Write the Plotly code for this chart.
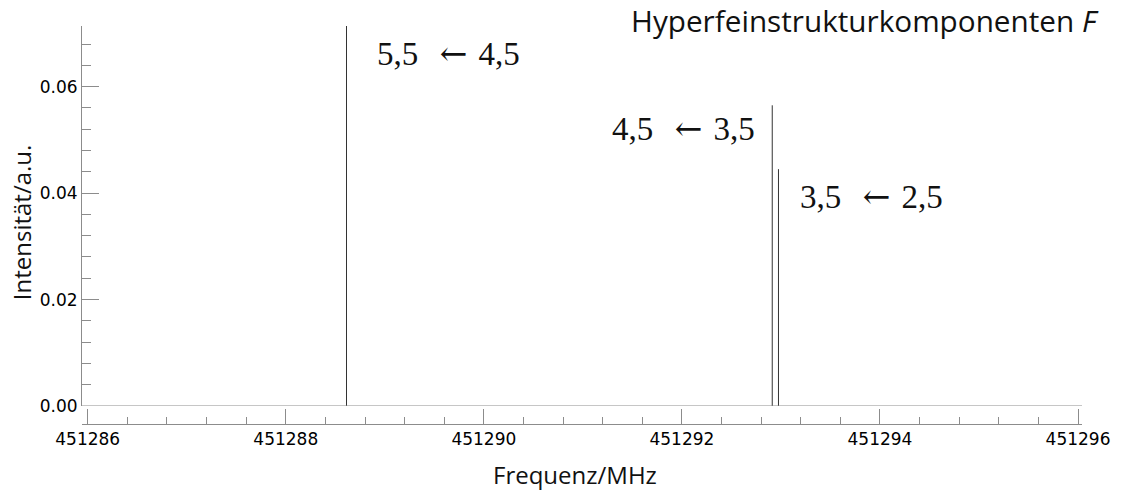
import plotly.graph_objects as go

# Hyperfine components: line frequency (MHz) and relative intensity (a.u.)
freq_mhz = [451288.613, 451292.912, 451292.975]
intensity = [0.0714, 0.0565, 0.0445]
upper_F = ["5,5", "4,5", "3,5"]
lower_F = ["4,5", "3,5", "2,5"]

x_ticks = [451286, 451288, 451290, 451292, 451294, 451296]
y_ticks = [0.00, 0.02, 0.04, 0.06]

AXIS_GREY = "#8c8c8c"
STICK = "#333333"
TICK_FONT = dict(family="DejaVu Sans", size=17, color="#000000")
TITLE_FONT = dict(family="Open Sans", size=24, color="#111111")
LABEL_FONT = dict(family="Liberation Serif", size=33, color="#111111")
ARROW = "<span style='font-family:DejaVu Serif'>\u2190</span>"

# stick spectrum: one vertical segment per component, separated by gaps
xs, ys = [], []
for f, a in zip(freq_mhz, intensity):
    xs += [f, f, None]
    ys += [0, a, None]

fig = go.Figure()
fig.add_trace(go.Scatter(x=xs, y=ys, mode="lines",
                         line=dict(color=STICK, width=1),
                         hoverinfo="skip", showlegend=False))

fig.update_layout(
    width=1122, height=490,
    margin=dict(l=82, r=40, t=26, b=66),
    paper_bgcolor="white", plot_bgcolor="white",
    showlegend=False,
    xaxis=dict(
        range=[451285.942, 451296.04],
        anchor="free", position=0,
        tickvals=x_ticks, ticktext=[str(v) for v in x_ticks],
        ticks="inside", ticklen=15, tickcolor=AXIS_GREY, tickwidth=1,
        minor=dict(dtick=0.4, tick0=451286, ticks="inside", ticklen=7,
                   tickcolor=AXIS_GREY, tickwidth=1, showgrid=False),
        showline=True, linecolor=AXIS_GREY, linewidth=1,
        showgrid=False, zeroline=False,
        tickfont=TICK_FONT,
    ),
    yaxis=dict(
        range=[0, 0.0714],
        domain=[18 / 398, 1],
        tickvals=y_ticks, ticktext=[f"{v:.2f}" for v in y_ticks],
        ticks="inside", ticklen=17, tickcolor=AXIS_GREY, tickwidth=1,
        minor=dict(dtick=0.004, tick0=0, ticks="inside", ticklen=9,
                   tickcolor=AXIS_GREY, tickwidth=1, showgrid=False),
        showline=True, linecolor=AXIS_GREY, linewidth=1,
        showgrid=False, zeroline=False,
        tickfont=TICK_FONT,
    ),
)

# baseline at zero intensity
fig.add_shape(type="line", xref="paper", x0=0, x1=1, yref="y", y0=0, y1=0,
              line=dict(color=AXIS_GREY, width=1))

annotations = [
    dict(text="Frequenz/MHz", xref="paper", yref="paper", x=0.493, y=-0.128,
         xanchor="center", yanchor="middle", showarrow=False, font=TITLE_FONT),
    dict(text="Intensität/a.u.", xref="paper", yref="paper", x=-0.0603, y=0.5063,
         xanchor="center", yanchor="middle", textangle=-90, showarrow=False,
         font=TITLE_FONT),
    dict(text="Hyperfeinstrukturkomponenten <i>F</i>", xref="paper", yref="paper",
         x=1.019, y=1.015, xanchor="right", yanchor="middle", showarrow=False,
         font=dict(family="Open Sans", size=29.7, color="#111111")),
]

# component labels placed beside their sticks
label_dx = [0.286, -0.158, 0.200]
label_y = [0.0663, 0.0522, 0.0393]
for f, up, lo, dx, ly in zip(freq_mhz, upper_F, lower_F, label_dx, label_y):
    txt = f"{up} \u2009\u2009{ARROW} \u200a{lo}"
    annotations.append(dict(text=txt, xref="x", yref="y", x=f + dx, y=ly,
                            xanchor="left" if dx > 0 else "right",
                            yanchor="middle", showarrow=False, font=LABEL_FONT))

fig.update_layout(annotations=annotations)
fig.write_html("out.html")
